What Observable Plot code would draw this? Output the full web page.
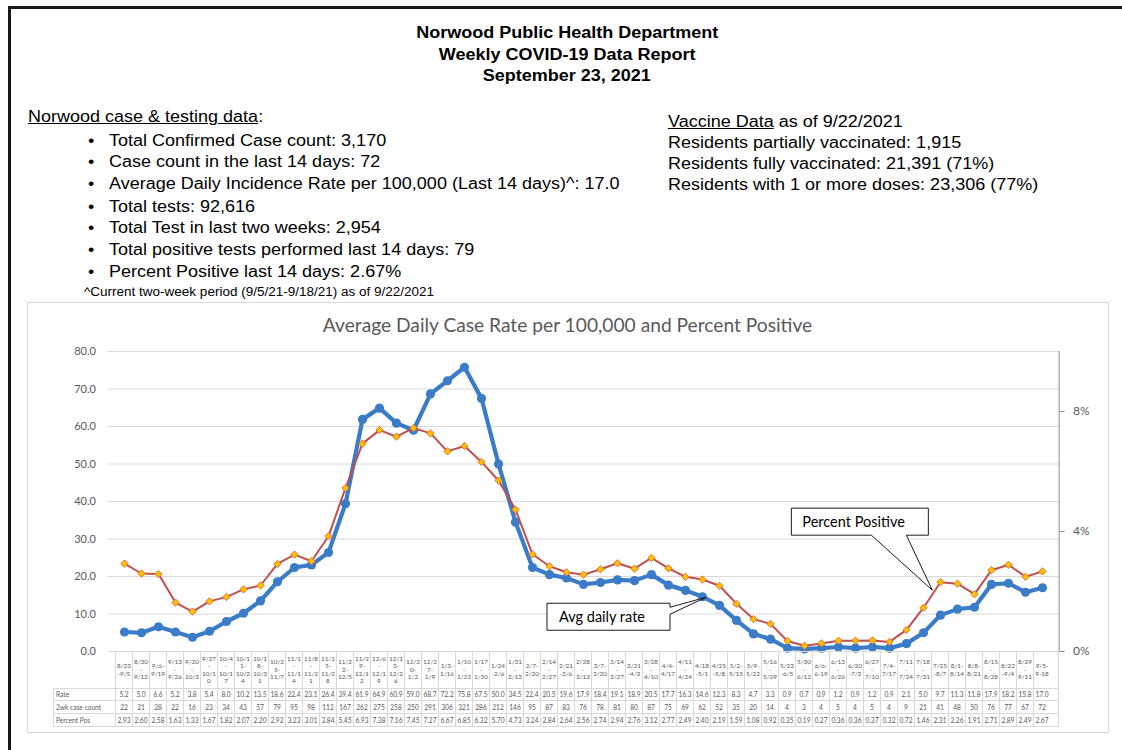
<!DOCTYPE html>
<html><head><meta charset="utf-8">
<script src="https://cdn.jsdelivr.net/npm/d3@7"></script>
<script src="https://cdn.jsdelivr.net/npm/@observablehq/plot@0.6"></script>
<style>
html,body{margin:0;padding:0;background:#fff;}
body{width:1122px;height:750px;overflow:hidden;position:relative;font-family:"Liberation Sans",Arial,sans-serif;color:#000;}
#frame{position:absolute;left:8px;top:6px;width:1200px;height:800px;border-left:3px solid #1a1a1a;border-top:3px solid #1a1a1a;}
.t{position:absolute;white-space:nowrap;font-size:16px;line-height:20px;transform:scaleX(1.125);transform-origin:0 50%;}
.hdr{position:absolute;left:0;width:1134px;text-align:center;font-weight:bold;font-size:16px;line-height:20px;white-space:nowrap;}
.hdr span{display:inline-block;transform:scaleX(1.125);}
.u{text-decoration:underline;}
#chartbox{position:absolute;left:27px;top:302px;width:1080px;height:429px;border:1px solid #d9d9d9;}
#ctitle{position:absolute;left:0;width:1135px;top:312px;text-align:center;font-family:Lato,sans-serif;font-size:19.2px;line-height:26px;color:#595959;}
#plotwrap{position:absolute;left:0;top:340px;}
.cell{position:absolute;box-sizing:border-box;font-family:Lato,sans-serif;color:#595959;display:flex;align-items:center;justify-content:center;text-align:center;}
.hl{position:absolute;background:#d9d9d9;}
</style></head>
<body>
<div id="frame"></div>
<div class="hdr" style="top:23px"><span>Norwood Public Health Department</span></div>
<div class="hdr" style="top:45px"><span>Weekly COVID-19 Data Report</span></div>
<div class="hdr" style="top:66px"><span>September 23, 2021</span></div>
<div id="chartbox"></div>
<div id="ctitle"></div>
<div id="plotwrap"></div>
<div id="table"></div>
<script>
// ---- data ----
const caseHeading = "Norwood case & testing data";
const caseBullets = [
  "Total Confirmed Case count: 3,170",
  "Case count in the last 14 days: 72",
  "Average Daily Incidence Rate per 100,000 (Last 14 days)^: 17.0",
  "Total tests: 92,616",
  "Total Test in last two weeks: 2,954",
  "Total positive tests performed last 14 days: 79",
  "Percent Positive last 14 days: 2.67%"
];
const footnote = "^Current two-week period (9/5/21-9/18/21) as of 9/22/2021";
const vaccineHeading = "Vaccine Data";
const vaccineAsOf = " as of 9/22/2021";
const vaccineLines = [
  "Residents partially vaccinated: 1,915",
  "Residents fully vaccinated: 21,391 (71%)",
  "Residents with 1 or more doses: 23,306 (77%)"
];
const weeks = ["8/23-9/5","8/30-9/12","9/6-9/19","9/13-9/26","9/20-10/3","9/27-10/10","10/4-10/17","10/11-10/24","10/18-10/31","10/25-11/7",
  "11/1-11/14","11/8-11/21","11/15-11/28","11/22-12/5","11/29-12/12","12/6-12/19","12/13-12/26","12/20-1/2","12/27-1/9","1/3-1/16","1/10-1/23","1/17-1/30","1/24-2/6","1/31-2/13",
  "2/7-2/20","2/14-2/27","2/21-3/6","2/28-3/13","3/7-3/20","3/14-3/27","3/21-4/3","3/28-4/10","4/4-4/17","4/11-4/24","4/18-5/1","4/25-5/8","5/2-5/15","5/9-5/22","5/16-5/29",
  "5/23-6/5","5/30-6/12","6/6-6-19","6/13-6/26","6/20-7/3","6/27-7/10","7/4-7/17","7/11-7/24","7/18-7/31","7/25-8/7","8/1-8/14","8/8-8/21","8/15-8/28","8/22-9/4","8/29-9/11","9/5-9-18"];
const rate = [5.2,5.0,6.6,5.2,3.8,5.4,8.0,10.2,13.5,18.6,
  22.4,23.1,26.4,39.4,61.9,64.9,60.9,59.0,68.7,72.2,75.8,67.5,50.0,34.5,
  22.4,20.5,19.6,17.9,18.4,19.1,18.9,20.5,17.7,16.3,14.6,12.3,8.3,4.7,3.3,
  0.9,0.7,0.9,1.2,0.9,1.2,0.9,2.1,5.0,9.7,11.3,11.8,17.9,18.2,15.8,17.0];
const caseCount = [22,21,28,22,16,23,34,43,57,79,
  95,98,112,167,262,275,258,250,291,306,321,286,212,146,
  95,87,83,76,78,81,80,87,75,69,62,52,35,20,14,
  4,3,4,5,4,5,4,9,21,41,48,50,76,77,67,72];
const percentPos = [2.93,2.60,2.58,1.63,1.33,1.67,1.82,2.07,2.20,2.92,
  3.23,3.01,3.84,5.45,6.93,7.38,7.16,7.45,7.27,6.67,6.85,6.32,5.70,4.73,
  3.24,2.84,2.64,2.56,2.74,2.94,2.76,3.12,2.77,2.49,2.40,2.19,1.59,1.08,0.92,
  0.35,0.19,0.27,0.36,0.36,0.37,0.32,0.72,1.46,2.31,2.26,1.91,2.71,2.89,2.49,2.67];
const rowLabels = ["Rate","2wk case count","Percent Pos"];
const leftTicks = [0,10,20,30,40,50,60,70,80];
const rightTicks = [0,4,8];            // percent
const pctScale = 8;                    // 10% on the right axis == 80 on the left axis
const chartTitle = "Average Daily Case Rate per 100,000 and Percent Positive";
const rateCallout = {text:"Avg daily rate", week:"4/18-5/1"};
const pctCallout = {text:"Percent Positive", from:"7/18-7/31", to:"7/25-8/7"};

document.getElementById("ctitle").textContent = chartTitle;

// ---- text blocks ----
function addText(html, x, yc, extra){
  const d = document.createElement("div");
  d.className = "t"; d.innerHTML = html;
  d.style.left = x+"px"; d.style.top = (yc-10)+"px";
  if (extra) Object.assign(d.style, extra);
  document.body.appendChild(d);
  return d;
}
addText(`<span class="u">${caseHeading}</span>:`, 28, 117);
const bulletY = [141,162,184,207,228,250,272];
caseBullets.forEach((s,i)=>{
  addText("•", 88, bulletY[i]);
  addText(s, 109, bulletY[i]);
});
addText(footnote, 84, 292, {fontSize:"12px", lineHeight:"16px", top:(292-8)+"px"});
addText(`<span class="u">${vaccineHeading}</span>${vaccineAsOf}`, 668, 122);
[143,164,185].forEach((y,i)=>addText(vaccineLines[i], 668, y));

// ---- chart ----
const rows = weeks.map((w,i)=>({week:w, rate:rate[i], cases:caseCount[i], pct:percentPos[i]}));
const W = 1122, H = 315, ML = 107.4, MR = 63.4, MT = 11, MB = 4;
const blue = "#3b7cc9", red = "#c0504d";
const plot = Plot.plot({
  width: W, height: H, marginLeft: ML, marginRight: MR, marginTop: MT, marginBottom: MB,
  style: {background:"transparent", fontFamily:"Lato, sans-serif", color:"#595959", overflow:"visible"},
  x: {type:"point", domain: weeks, padding: 0.5, axis: null},
  y: {domain:[0,80], axis: null},
  marks: [
    Plot.gridY(leftTicks, {stroke:"#d9d9d9", strokeOpacity:1, strokeWidth:1}),
    Plot.axisY(leftTicks, {anchor:"left", label:null, tickSize:0, tickPadding:12, fontSize:11, tickFormat:d=>d.toFixed(1)}),
    Plot.axisY(rightTicks.map(p=>p*pctScale), {anchor:"right", label:null, tickSize:5, tickPadding:9, fontSize:12, stroke:"#8c8c8c", tickFormat:d=>(d/pctScale)+"%"}),
    Plot.frame({anchor:"right", stroke:"#8c8c8c"}),
    Plot.line(rows, {x:"week", y:"rate", stroke:blue, strokeWidth:4.2}),
    Plot.dot(rows, {x:"week", y:"rate", r:4.6, fill:blue}),
    Plot.line(rows, {x:"week", y:d=>d.pct*pctScale, stroke:red, strokeWidth:2}),
    Plot.dot(rows, {x:"week", y:d=>d.pct*pctScale, symbol:"diamond2", r:3.3, fill:"#ffc000", stroke:"#e8703a", strokeWidth:1})
  ]
});
document.getElementById("plotwrap").appendChild(plot);
const xs = plot.scale("x"), ys = plot.scale("y");
const svg = d3.select(plot);
function callout(pathPts, tx, ty, text){
  svg.append("path").attr("d", "M"+pathPts.map(p=>p.join(",")).join("L")+"Z")
    .attr("fill","#fff").attr("stroke","#000").attr("stroke-width",0.9);
  svg.append("text").attr("x",tx).attr("y",ty).text(text).attr("text-anchor","start")
    .attr("font-family","Lato, sans-serif").attr("font-size",14.5).attr("fill","#000");
}
{ // Avg daily rate
  const r = rows.find(d=>d.week===rateCallout.week);
  const tx = xs.apply(r.week)+4, ty = ys.apply(r.rate)+1;
  const L = tx-159, T = ty+6, R = L+123, B = T+27;
  callout([[L,T],[R,T],[R,T+4],[tx,ty],[R,T+11],[R,B],[L,B]], L+12, B-8, rateCallout.text);
}
{ // Percent Positive
  const a = rows.find(d=>d.week===pctCallout.from), b = rows.find(d=>d.week===pctCallout.to);
  const f = 0.55;
  const ax = xs.apply(a.week), bx = xs.apply(b.week), ay = ys.apply(a.pct*pctScale), by = ys.apply(b.pct*pctScale);
  const tx = ax+(bx-ax)*f, ty = ay+(by-ay)*f - 3;
  const L = tx-141, T = ty-82, R = L+137, B = T+27;
  callout([[L,T],[R,T],[R,B],[L+115,B],[tx,ty],[L+80,B],[L,B]], L+11, B-8, pctCallout.text);
}

// ---- data table (columns aligned to the x scale) ----
function wrapLabel(s, max=4){
  const segs = s.match(/[^-]*-|[^-]+$/g);
  const lines=[]; let cur="";
  for (const seg of segs){
    if ((cur+seg).length<=max) cur+=seg;
    else if (seg.length<=max){ if (cur) lines.push(cur); cur=seg; }
    else { if (cur){lines.push(cur); cur="";} let rest=seg;
      while (rest.length>max){lines.push(rest.slice(0,max)); rest=rest.slice(max);} cur=rest; }
  }
  if (cur) lines.push(cur);
  return lines;
}
const tbl = document.getElementById("table");
const top0 = 340 + MT + (H-MT-MB); // y of 0 line in page
const step = (W-ML-MR)/weeks.length;
const rowTops = [top0, top0+37, top0+49.7, top0+62.4, top0+75.1];
const labelLeft = 53;
function cell(x,y,w,h,html,extra){
  const d=document.createElement("div"); d.className="cell";
  Object.assign(d.style,{left:x+"px",top:y+"px",width:w+"px",height:h+"px"}, extra||{});
  d.innerHTML=html; tbl.appendChild(d);
}
function hline(x1,x2,y){const d=document.createElement("div");d.className="hl";Object.assign(d.style,{left:x1+"px",top:(y-0.5)+"px",width:(x2-x1)+"px",height:"1px"});tbl.appendChild(d);}
function vline(x,y1,y2){const d=document.createElement("div");d.className="hl";Object.assign(d.style,{left:(x-0.5)+"px",top:y1+"px",width:"1px",height:(y2-y1)+"px"});tbl.appendChild(d);}
const right = W-MR;
weeks.forEach((w,i)=>{
  const x0 = xs.apply(w)-step/2;
  cell(x0, rowTops[0], step, rowTops[1]-rowTops[0], wrapLabel(w).join("<br>"), {fontSize:"6.4px", lineHeight:"7.4px"});
  const vals=[rate[i].toFixed(1), String(caseCount[i]), percentPos[i].toFixed(2)];
  vals.forEach((v,j)=>cell(x0, rowTops[j+1], step, rowTops[j+2]-rowTops[j+1], v, {fontSize:"6.6px"}));
  vline(x0, rowTops[0], rowTops[4]);
});
vline(right, rowTops[0], rowTops[4]);
vline(labelLeft, rowTops[1], rowTops[4]);
rowLabels.forEach((s,j)=>cell(labelLeft+3, rowTops[j+1], ML-labelLeft-3, rowTops[j+2]-rowTops[j+1], s, {fontSize:"6.6px", justifyContent:"flex-start"}));
hline(ML, right, rowTops[0]);
[1,2,3,4].forEach(k=>hline(labelLeft, right, rowTops[k]));
</script>
</body></html>
